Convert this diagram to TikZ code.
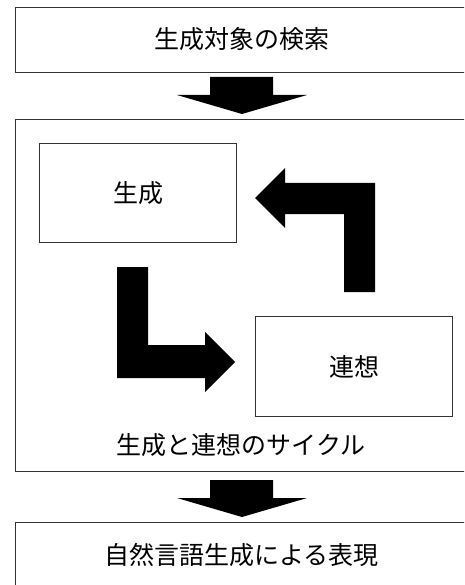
\documentclass[tikz,border=0pt]{standalone}
\usepackage{fontspec}
\newfontfamily\cjk{Noto Sans CJK JP}
\begin{document}
\begin{tikzpicture}[x=1pt,y=-1pt,
  box/.style={draw=black!80,line width=1.2pt,fill=white,rectangle,inner sep=0pt},
  lbl/.style={font=\cjk\fontsize{25}{30}\selectfont,text=black,inner sep=0pt},
  fat/.style={fill=black,draw=none}]
\useasboundingbox (0,0) rectangle (464,585);
\clip (0,0) rectangle (464,585);
% outer stages
\node[box,minimum width=454pt,minimum height=65.5pt,anchor=north west] (search) at (14.5,6.7) {};
\node[lbl] (searchT) at (241.5,39.5) {生成対象の検索};
\node[box,minimum width=454pt,minimum height=352pt,anchor=north west] (cycle) at (14.5,119) {};
\node[lbl] (cycleT) at (241,445) {生成と連想のサイクル};
\node[box,minimum width=454pt,minimum height=66pt,anchor=north west] (expr) at (14.5,522) {};
\node[lbl] (exprT) at (241.5,555) {自然言語生成による表現};
% inner boxes
\node[box,line width=1pt,minimum width=197pt,minimum height=99pt,anchor=north west] (gen) at (39,143) {};
\node[lbl] (genT) at (gen.center) {生成};
\node[box,line width=1pt,minimum width=197pt,minimum height=100pt,anchor=north west] (assoc) at (255,316) {};
\node[lbl] (assocT) at (assoc.center) {連想};
% down arrows
\fill[fat] (210,77) -- (273,77) -- (273,95) -- (307,95) -- (242,114) -- (177,95) -- (210,95) -- cycle;
\fill[fat] (210,480) -- (273,480) -- (273,498) -- (307,498) -- (242,517) -- (177,498) -- (210,498) -- cycle;
% left-pointing bent arrow
\fill[fat] (255,198) -- (285,168) -- (285,183) -- (375,183) -- (375,292) -- (344,292) -- (344,214) -- (285,214) -- (285,228) -- cycle;
% down-right bent arrow
\fill[fat] (117,267) -- (148,267) -- (148,345) -- (205,345) -- (205,332) -- (235,362) -- (205,392) -- (205,378) -- (117,378) -- cycle;
\end{tikzpicture}
\end{document}
